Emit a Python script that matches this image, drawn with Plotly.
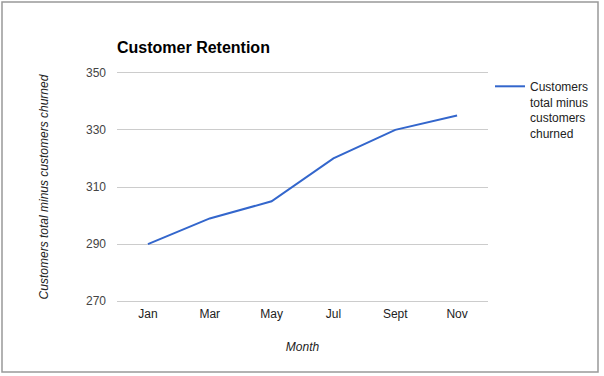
import plotly.graph_objects as go

months = ["Jan", "Mar", "May", "Jul", "Sept", "Nov"]
retained = [290, 299, 305, 320, 330, 335]
series_name = "Customers<br>total minus<br>customers<br>churned"
y_ticks = [270, 290, 310, 330, 350]

W, H = 604, 376
# plot area: x 117..488; y-range 268..352 mapped so that 350->73px, 270->301px
L, R = 117, 116
scale = 228 / 80.0
T = round(73 - 2 * scale)
B = round(H - (301 + 2 * scale))
pw, ph = W - L - R, H - T - B

def px_x(px):
    return (px - L) / pw

def px_y(py):
    return (H - B - py) / ph

fig = go.Figure()
fig.add_trace(go.Scatter(
    x=months, y=retained, mode="lines", name=series_name,
    line=dict(color="#3366cc", width=2),
))

font = "Liberation Sans, Arial, sans-serif"
fig.update_layout(
    width=W, height=H,
    margin=dict(l=L, r=R, t=T, b=B, autoexpand=False),
    paper_bgcolor="white", plot_bgcolor="white",
    font=dict(family=font, size=12, color="#444444"),
    title=dict(text="<b>Customer Retention</b>", x=px_x(117), xref="paper",
               xanchor="left", y=1 - 47 / H, yanchor="middle",
               font=dict(size=16, color="#000000", family=font)),
    xaxis=dict(
        type="category", range=[-0.5, 5.5], showgrid=False, zeroline=False,
        showline=False, ticks="", ticklabelstandoff=4 - (H - B - 301),
        tickfont=dict(size=12, color="#222222"), automargin=False,
        title=dict(text="<i>Month</i>", font=dict(size=12, color="#222222"), standoff=22),
    ),
    yaxis=dict(
        range=[268, 352], tickvals=y_ticks, showgrid=True, gridcolor="#cccccc",
        gridwidth=1, zeroline=False, showline=False, ticks="",
        ticklabelstandoff=10, automargin=False,
        tickfont=dict(size=12, color="#444444"),
        title=dict(text="<i>Customers total minus customers churned</i>",
                   font=dict(size=12, color="#222222"), standoff=34),
    ),
    legend=dict(x=px_x(490), y=px_y(72), xanchor="left", yanchor="top",
                font=dict(size=12, color="#222222"), bgcolor="rgba(0,0,0,0)",
                itemwidth=30, tracegroupgap=0, valign="top"),
    showlegend=True,
    shapes=[dict(type="rect", xref="paper", yref="paper",
                 x0=px_x(2), x1=px_x(598), y0=px_y(372), y1=px_y(2),
                 line=dict(color="#999999", width=1.5), layer="below")],
)

fig.write_html(
    "out.html", config={"displayModeBar": False},
    post_script=("document.body.style.margin='0';"
                 "document.body.style.overflow='hidden';"
                 "document.documentElement.style.overflow='hidden';"),
)
